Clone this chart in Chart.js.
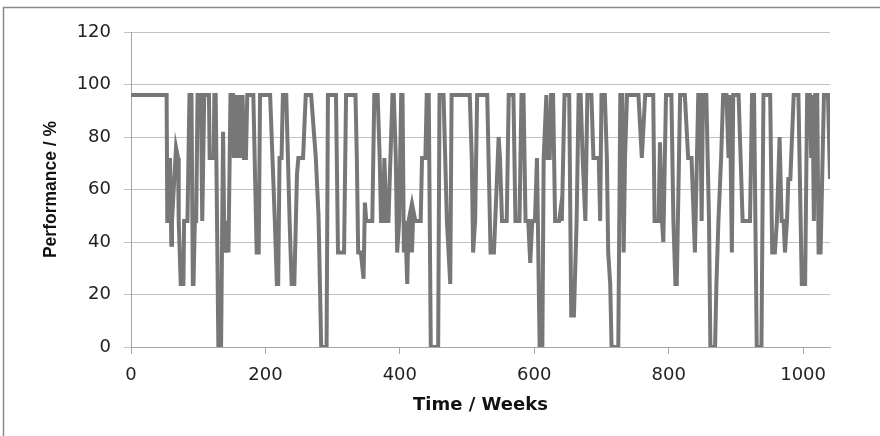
<!DOCTYPE html>
<html>
<head>
<meta charset="utf-8">
<script src="https://cdn.jsdelivr.net/npm/chart.js@4.4.1/dist/chart.umd.min.js"></script>
<style>
  html, body { margin: 0; padding: 0; background: #fff; }
</style>
</head>
<body>
<canvas id="chart" width="880" height="436"></canvas>
<script>
// week at which each level starts / ends
var weeks = [
  0, 53, 54, 56, 58, 60, 61, 67, 70, 71, 74, 78, 79, 84, 87, 90, 92, 93, 95, 97,
  99, 104, 106, 107, 109, 116, 117, 123, 124, 126, 128, 130, 134, 137, 139, 142, 145, 148, 152, 153,
  156, 158, 161, 164, 166, 168, 171, 173, 182, 187, 190, 192, 207, 214, 217, 219, 221, 224, 226, 231,
  236, 239, 243, 247, 249, 256, 260, 268, 275, 279, 283, 291, 293, 305, 308, 317, 320, 330, 334, 336,
  338, 342, 346, 348, 350, 359, 362, 367, 370, 372, 375, 377, 380, 383, 389, 391, 394, 396, 399, 402,
  404, 406, 408, 411, 413, 416, 418, 420, 423, 431, 433, 438, 440, 443, 446, 457, 459, 465, 470, 475,
  477, 504, 507, 509, 512, 515, 530, 532, 535, 540, 547, 549, 552, 559, 562, 569, 572, 578, 581, 584,
  587, 591, 594, 597, 601, 604, 608, 612, 614, 618, 620, 623, 625, 628, 631, 637, 639, 641, 645, 652,
  655, 659, 663, 666, 669, 672, 676, 679, 685, 688, 696, 698, 700, 705, 708, 710, 713, 715, 725, 728,
  731, 733, 735, 738, 755, 760, 765, 777, 779, 785, 787, 790, 792, 796, 804, 807, 810, 812, 817, 824,
  829, 834, 839, 844, 847, 849, 851, 856, 858, 860, 862, 869, 871, 874, 878, 881, 886, 889, 891, 894,
  896, 904, 907, 910, 921, 924, 927, 931, 938, 941, 951, 954, 958, 961, 965, 968, 971, 973, 976, 978,
  981, 986, 993, 998, 1003, 1006, 1010, 1012, 1014, 1016, 1018, 1021, 1023, 1026, 1031, 1037, 1040
];
var perf = [
  96, 96, 48, 48, 72, 39, 48, 76, 72, 48, 24, 24, 48, 48, 96, 96, 24, 24, 48, 48,
  96, 96, 48, 48, 96, 96, 72, 72, 96, 96, 48, 0, 0, 82, 36, 48, 36, 96, 96, 72,
  96, 72, 96, 72, 96, 72, 72, 96, 96, 36, 36, 96, 96, 48, 24, 24, 72, 72, 96, 96,
  48, 24, 24, 66, 72, 72, 96, 96, 72, 50, 0, 0, 96, 96, 36, 36, 96, 96, 96, 72,
  36, 36, 26, 55, 48, 48, 96, 96, 72, 48, 48, 72, 48, 48, 96, 96, 72, 36, 48, 96,
  96, 36, 48, 24, 48, 52, 36, 52, 48, 48, 72, 72, 96, 96, 0, 0, 96, 96, 48, 24,
  96, 96, 72, 36, 48, 96, 96, 72, 36, 36, 80, 72, 48, 48, 96, 96, 48, 48, 96, 96,
  48, 48, 32, 48, 48, 72, 0, 0, 72, 96, 72, 72, 96, 96, 48, 48, 52, 48, 96, 96,
  12, 12, 48, 96, 96, 72, 48, 96, 96, 72, 72, 48, 96, 96, 72, 36, 24, 0, 0, 96,
  96, 36, 72, 96, 96, 72, 96, 96, 48, 48, 78, 48, 40, 96, 96, 48, 24, 24, 96, 96,
  72, 72, 36, 96, 96, 48, 96, 96, 72, 48, 0, 0, 24, 48, 72, 96, 96, 72, 96, 36,
  96, 96, 72, 48, 48, 96, 96, 0, 0, 96, 96, 36, 36, 48, 80, 48, 48, 36, 48, 64,
  64, 96, 96, 24, 24, 96, 96, 72, 96, 48, 96, 96, 36, 36, 96, 96, 64
];
var xTicks = [0, 200, 400, 600, 800, 1000];
var yTicks = [0, 20, 40, 60, 80, 100, 120];

var points = [];
for (var i = 0; i < weeks.length; i++) {
  points.push({x: weeks[i], y: perf[i]});
}

var framePlugin = {
  id: 'frame',
  beforeDraw: function(chart) {
    var ctx = chart.ctx;
    ctx.save();
    ctx.fillStyle = '#fff';
    ctx.fillRect(0, 0, chart.width, chart.height);
    ctx.strokeStyle = '#8a8a8a';
    ctx.lineWidth = 1.5;
    ctx.beginPath();
    ctx.moveTo(3.5, 436);
    ctx.lineTo(3.5, 7.5);
    ctx.lineTo(880, 7.5);
    ctx.stroke();
    ctx.restore();
  }
};

var tickFont = {family: 'DejaVu Sans', size: 18};
var titleFont = {family: 'Liberation Sans', size: 17.5, weight: 'bold'};

new Chart(document.getElementById('chart'), {
  type: 'line',
  data: {
    datasets: [{
      data: points,
      borderColor: '#777777',
      borderWidth: 4,
      pointRadius: 0,
      tension: 0,
      fill: false
    }]
  },
  options: {
    responsive: false,
    animation: false,
    layout: {padding: {top: 32, right: 50, bottom: 0, left: 0}},
    plugins: {legend: {display: false}, tooltip: {enabled: false}},
    scales: {
      x: {
        type: 'linear',
        min: 0,
        max: 1040,
        afterBuildTicks: function(scale) {
          scale.ticks = xTicks.map(function(v) { return {value: v}; });
        },
        afterFit: function(scale) { scale.height = 89; },
        ticks: {
          font: tickFont, color: '#222', padding: 11, maxRotation: 0,
          callback: function(v) { return String(v); }
        },
        grid: {drawOnChartArea: false, tickLength: 7, color: '#a6a6a6'},
        border: {display: true, color: '#a6a6a6'},
        title: {
          display: true,
          text: 'Time / Weeks',
          font: {family: 'DejaVu Sans', size: 18, weight: 'bold'},
          color: '#111',
          padding: {top: 0, bottom: 20}
        }
      },
      y: {
        min: 0,
        max: 120,
        afterBuildTicks: function(scale) {
          scale.ticks = yTicks.map(function(v) { return {value: v}; });
        },
        afterFit: function(scale) { scale.width = 131; },
        ticks: {font: tickFont, color: '#222', padding: 13},
        grid: {color: '#c2c2c2', tickLength: 7},
        border: {display: true, color: '#a6a6a6'},
        title: {
          display: true,
          text: 'Performance / %',
          font: titleFont,
          color: '#111',
          padding: {top: 41, bottom: 0}
        }
      }
    }
  },
  plugins: [framePlugin]
});
</script>
</body>
</html>
